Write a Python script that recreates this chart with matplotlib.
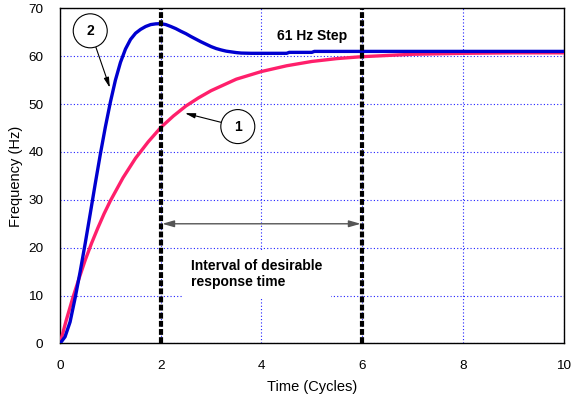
import matplotlib
matplotlib.use("Agg")
import matplotlib.pyplot as plt

plt.rcParams['font.family'] = ['Liberation Sans', 'DejaVu Sans']

# Curve 1 (first-order response)
t1 = [0, 0.125, 0.25, 0.375, 0.5, 0.625, 0.75, 0.875, 1.0, 1.25, 1.5, 1.75, 2.0,
      2.25, 2.5, 2.75, 3.0, 3.5, 4.0, 4.5, 5.0, 5.5, 6.0, 7.0, 8.0, 9.0, 10.0]
f1 = [0, 4.9, 9.4, 13.5, 17.4, 20.9, 24.1, 27.1, 29.8, 34.6, 38.7, 42.1, 45.1,
      47.5, 49.6, 51.3, 52.8, 55.2, 56.8, 58.0, 58.9, 59.5, 59.9, 60.4, 60.6,
      60.7, 60.7]

# Curve 2 (second-order response)
t2 = [0, 0.1, 0.2, 0.3, 0.4, 0.5, 0.6, 0.7, 0.8, 0.9, 1.0, 1.1, 1.2, 1.3, 1.4,
      1.5, 1.6, 1.7, 1.8, 1.9, 2.0, 2.1, 2.2, 2.3, 2.4, 2.5, 2.6, 2.7, 2.8, 2.9,
      3.0, 3.1, 3.2, 3.3, 3.4, 3.5, 3.6, 3.8, 4.5, 4.55, 5.0, 5.05, 10.0]
f2 = [0, 1.4, 4.5, 9.5, 15.0, 20.9, 27.1, 33.4, 39.5, 45.2, 50.4, 55.0, 58.7,
      61.5, 63.5, 64.8, 65.6, 66.2, 66.6, 66.75, 66.8, 66.6, 66.2, 65.75, 65.2,
      64.7, 64.1, 63.55, 63.0, 62.5, 62.0, 61.6, 61.3, 61.05, 60.9, 60.75,
      60.65, 60.6, 60.6, 60.8, 60.8, 61.0, 61.0]

interval = [2, 6]
arrow_y = 25
xticks = [0, 2, 4, 6, 8, 10]
yticks = [0, 10, 20, 30, 40, 50, 60, 70]

fig = plt.figure(figsize=(5.71, 4.01), dpi=100)
ax = fig.add_axes([0.1051, 0.1434, 0.8821, 0.8359])
ax.set_xlim(0, 10)
ax.set_ylim(0, 70)
ax.set_xticks(xticks)
ax.set_yticks(yticks)
ax.tick_params(length=0, labelsize=9.7, pad=12)
ax.grid(True, color='#2020ff', linestyle=(0, (1, 2)), linewidth=0.8)
ax.set_axisbelow(True)
for s in ax.spines.values():
    s.set_color('black')
    s.set_linewidth(1.0)

ax.set_xlabel('Time (Cycles)', fontsize=10.5, labelpad=6)
ax.set_ylabel('Frequency (Hz)', fontsize=10.5, labelpad=4)

ax.plot(t1, f1, color='#ff1f6b', lw=2.4, zorder=3, solid_joinstyle='round')
ax.plot(t2, f2, color='#0000d0', lw=2.4, zorder=4, solid_joinstyle='round')

for xv in interval:
    ax.axvline(xv, color='black', lw=3, linestyle=(0, (1.4, 0.55)), zorder=5)

ax.annotate('', xy=(interval[0] + 0.03, arrow_y), xytext=(interval[1] - 0.03, arrow_y),
            arrowprops=dict(arrowstyle='<|-|>,head_length=0.7,head_width=0.2',
                            color='#555555', lw=1.0, shrinkA=0, shrinkB=0), zorder=6)

ax.text(2.6, 14.5, 'Interval of desirable\nresponse time', fontsize=10,
        fontweight='bold', va='center', ha='left', linespacing=1.25,
        bbox=dict(boxstyle='square,pad=0.6', facecolor='white', edgecolor='none'),
        zorder=2)

ax.text(4.3, 64.3, '61 Hz Step', fontsize=10, fontweight='bold',
        va='center', ha='left', zorder=2)

ax.annotate('2', xy=(0.99, 53.4), xytext=(0.60, 65.3), fontsize=10,
            fontweight='bold', ha='center', va='center',
            bbox=dict(boxstyle='circle,pad=0.72', facecolor='white', edgecolor='black', lw=0.8),
            arrowprops=dict(arrowstyle='-|>,head_length=0.6,head_width=0.15',
                            color='black', lw=0.8, shrinkA=0, shrinkB=0), zorder=7)
ax.annotate('1', xy=(2.48, 48.1), xytext=(3.53, 45.3), fontsize=10,
            fontweight='bold', ha='center', va='center',
            bbox=dict(boxstyle='circle,pad=0.72', facecolor='white', edgecolor='black', lw=0.8),
            arrowprops=dict(arrowstyle='-|>,head_length=0.6,head_width=0.15',
                            color='black', lw=0.8, shrinkA=0, shrinkB=0), zorder=7)

fig.savefig('out.png', dpi=100)
